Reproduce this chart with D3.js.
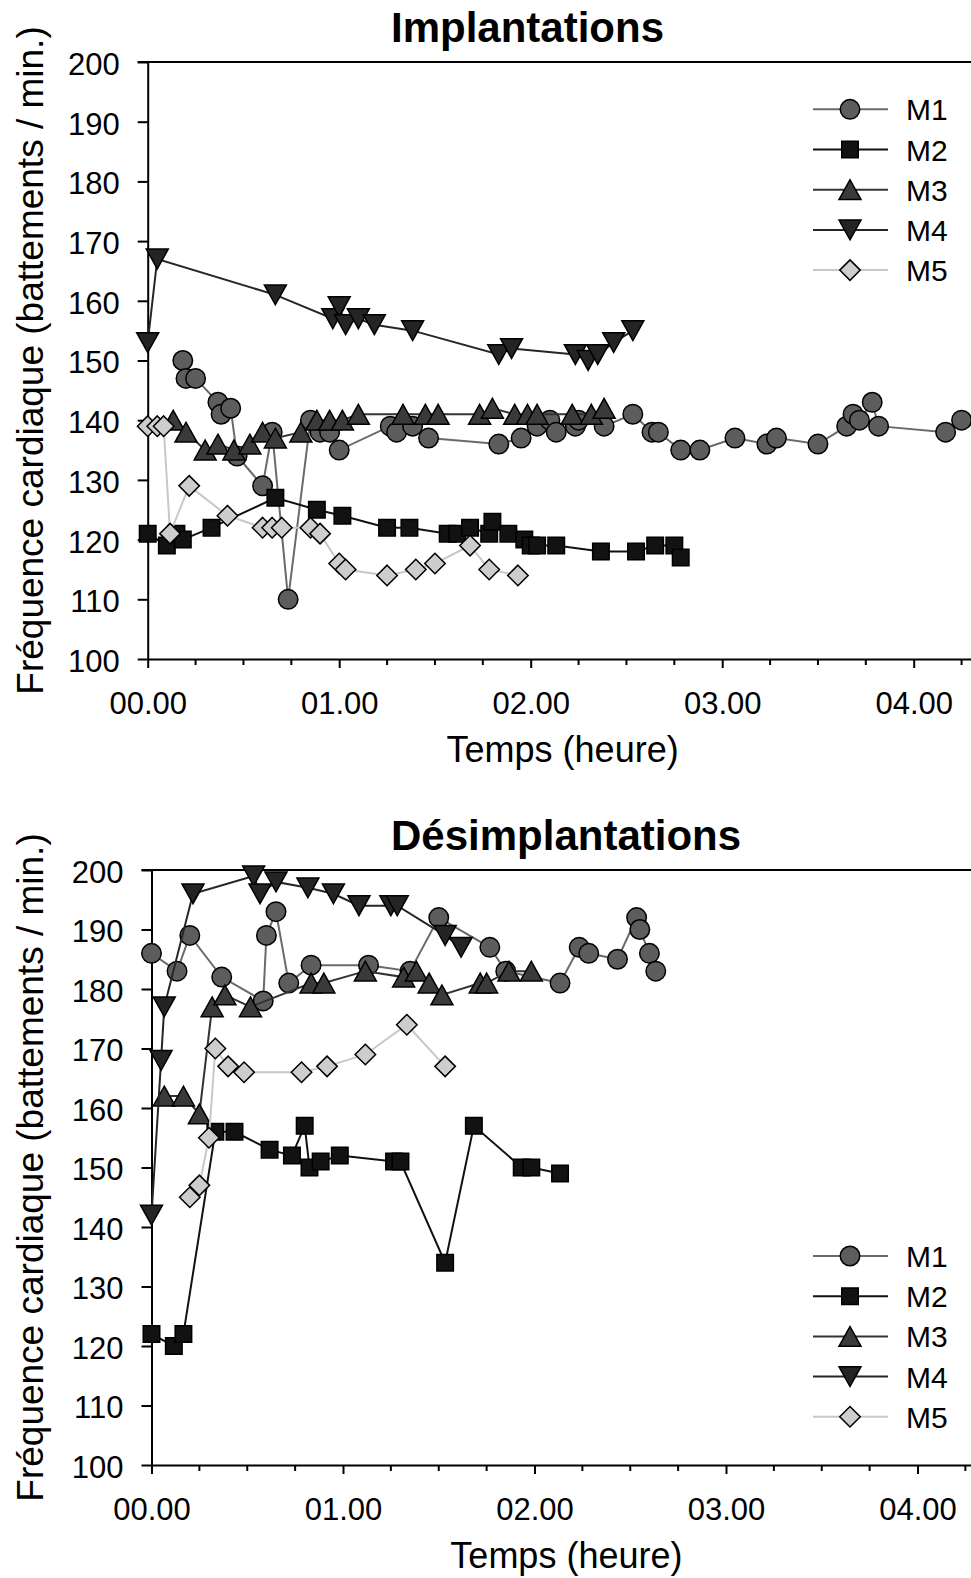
<!DOCTYPE html>
<html>
<head>
<meta charset="utf-8">
<script src="https://cdn.jsdelivr.net/npm/d3@7"></script>
<style>
    body { margin: 0; background: #fff; }
    text { font-family: "Liberation Sans", Arial, sans-serif; fill: #000; }
</style>
</head>
<body>
<div id="graphic"></div>
<script>
const W = 971
const H = 1578

// temps en minutes, frequence en battements / min.
// Implantations
const implM1Time = [11, 12, 15, 22, 23, 26, 28, 36, 39, 44, 51, 54, 57, 60, 76, 78, 83, 88, 110, 117, 122, 126, 128, 134, 135, 143, 152, 158, 160, 167, 173, 184, 194, 197, 210, 219, 221, 223, 227, 229, 250, 255]
const implM1 = [150, 147, 147, 143, 141, 142, 134, 129, 138, 110, 140, 138, 138, 135, 139, 138, 139, 137, 136, 137, 139, 140, 138, 139, 140, 139, 141, 138, 138, 135, 135, 137, 136, 137, 136, 139, 141, 140, 143, 139, 138, 140]
const implM2Time = [0, 6, 9, 11, 20, 40, 53, 61, 75, 82, 94, 97, 101, 107, 108, 113, 118, 120, 122, 128, 142, 153, 159, 165, 167]
const implM2 = [121, 119, 121, 120, 122, 127, 125, 124, 122, 122, 121, 121, 122, 121, 123, 121, 120, 119, 119, 119, 118, 118, 119, 119, 117]
const implM3Time = [8, 12, 18, 22, 27, 32, 36, 40, 48, 53, 57, 61, 66, 80, 87, 91, 104, 108, 115, 119, 122, 133, 139, 143]
const implM3 = [140, 138, 135, 136, 135, 136, 138, 137, 138, 140, 140, 140, 141, 141, 141, 141, 141, 142, 141, 141, 141, 141, 141, 142]
const implM4Time = [0, 3, 40, 58, 60, 62, 66, 71, 83, 110, 114, 134, 138, 141, 146, 152]
const implM4 = [153, 167, 161, 157, 159, 156, 157, 156, 155, 151, 152, 151, 150, 151, 153, 155]
const implM5Time = [0, 3, 5, 7, 13, 25, 36, 39, 42, 51, 54, 60, 62, 75, 84, 90, 101, 107, 116]
const implM5 = [139, 139, 139, 121, 129, 124, 122, 122, 122, 122, 121, 116, 115, 114, 115, 116, 119, 115, 114]

// Desimplantations
const desM1Time = [0, 8, 12, 22, 35, 36, 39, 43, 50, 68, 81, 90, 106, 111, 128, 134, 137, 146, 152, 153, 156, 158]
const desM1 = [186, 183, 189, 182, 178, 189, 193, 181, 184, 184, 183, 192, 187, 183, 181, 187, 186, 185, 192, 190, 186, 183]
const desM2Time = [0, 7, 10, 20, 26, 37, 44, 48, 49.5, 53, 59, 76, 78, 92, 101, 116, 119, 128]
const desM2 = [122, 120, 122, 156, 156, 153, 152, 157, 150, 151, 152, 151, 151, 134, 157, 150, 150, 149]
const desM3Time = [4, 10, 15, 19, 23, 31, 50, 54, 67, 79, 83, 87, 91, 103, 105, 112, 119]
const desM3 = [162, 162, 159, 177, 179, 177, 181, 181, 183, 182, 183, 181, 179, 181, 181, 183, 183]
const desM4Time = [0, 3, 4, 13, 32, 34, 39, 49, 57, 65, 75, 77, 92, 97]
const desM4 = [142, 168, 177, 196, 199, 196, 198, 197, 196, 194, 194, 194, 189, 187]
const desM5Time = [12, 15, 18, 20, 24, 29, 47, 55, 67, 80, 92]
const desM5 = [145, 147, 155, 170, 167, 166, 166, 167, 169, 174, 167]

const seriesNames = ["M1", "M2", "M3", "M4", "M5"]
const xTicks = [0, 60, 120, 180, 240]
const xMinorTicks = d3.range(0, 261, 15)
const yTicks = [100, 110, 120, 130, 140, 150, 160, 170, 180, 190, 200]

// symboles (centres sur leur boite)
const triUp = {
    draw(ctx, s) {
        const w = s / 2, h = s * 0.9 / 2
        ctx.moveTo(0, -h); ctx.lineTo(w, h); ctx.lineTo(-w, h); ctx.closePath()
    }
}
const triDown = {
    draw(ctx, s) {
        const w = s / 2, h = s * 0.9 / 2
        ctx.moveTo(0, h); ctx.lineTo(w, -h); ctx.lineTo(-w, -h); ctx.closePath()
    }
}
const diamond = {
    draw(ctx, s) {
        const r = s / 2
        ctx.moveTo(0, -r); ctx.lineTo(r, 0); ctx.lineTo(0, r); ctx.lineTo(-r, 0); ctx.closePath()
    }
}
const square = {
    draw(ctx, s) { ctx.rect(-s / 2, -s / 2, s, s) }
}
const circle = {
    draw(ctx, s) { ctx.moveTo(s / 2, 0); ctx.arc(0, 0, s / 2, 0, 2 * Math.PI) }
}

const styles = [
    { type: circle, size: 19.5, fill: "#5d5d5d", line: "#6a6a6a" },
    { type: square, size: 16.5, fill: "#121212", line: "#111" },
    { type: triUp, size: 22, fill: "#3a3a3a", line: "#333" },
    { type: triDown, size: 22, fill: "#242424", line: "#262626" },
    { type: diamond, size: 20.5, fill: "#cdcdcd", line: "#c8c8c8" }
]

const svg = d3.select("#graphic").append("svg")
    .attr("width", W)
    .attr("height", H)

function drawPanel(p) {
    const x = d3.scaleLinear()
        .domain([0, 260])
        .range([p.x0, p.x0 + 260 * 191.5 / 60])
    const y = d3.scaleLinear()
        .domain([100, 200])
        .range([p.bottom, p.top])

    const g = svg.append("g")

    // titre
    g.append("text")
        .attr("x", 391)
        .attr("y", p.titleY)
        .style("font-size", "42px")
        .style("font-weight", "bold")
        .text(p.title)

    // cadre du haut
    g.append("line")
        .attr("x1", p.x0 - 10).attr("x2", W + 20)
        .attr("y1", p.top).attr("y2", p.top)
        .attr("stroke", "#000").attr("stroke-width", 2)

    // axe y
    let yAxis = g.append("g")
        .attr("transform", "translate(" + p.x0 + ",0)")
        .call(d3.axisLeft(y).tickValues(yTicks).tickSize(10).tickSizeOuter(0).tickPadding(18))
    yAxis.select(".domain").attr("stroke-width", 2)
    yAxis.selectAll(".tick line").attr("stroke-width", 2)
    yAxis.selectAll("text")
        .style("font-size", "31px")
        .attr("font-family", null)
        .attr("dy", "0.4em")

    // axe x
    let xAxis = g.append("g")
        .attr("transform", "translate(0," + p.bottom + ")")
        .call(d3.axisBottom(x).tickValues(xTicks).tickSize(9).tickSizeOuter(0)
            .tickFormat(function (d) {
                return String(d / 60).padStart(2, "0") + ".00"
            }))
    xAxis.select(".domain").attr("stroke-width", 2)
    xAxis.selectAll(".tick line").attr("stroke-width", 2)
    xAxis.selectAll("text")
        .style("font-size", "31px")
        .attr("font-family", null)
        .attr("y", 54.5)
        .attr("dy", 0)

    g.selectAll(null)
        .data(xMinorTicks.filter(function (d) { return d % 60 != 0 }))
        .enter().append("line")
        .attr("x1", function (d) { return x(d) })
        .attr("x2", function (d) { return x(d) })
        .attr("y1", p.bottom)
        .attr("y2", p.bottom + 6)
        .attr("stroke", "#000")
        .attr("stroke-width", 2)

    // titres des axes
    g.append("text")
        .attr("x", (x.range()[0] + x.range()[1]) / 2)
        .attr("y", p.xTitleY)
        .attr("text-anchor", "middle")
        .style("font-size", "36px")
        .text("Temps (heure)")

    g.append("text")
        .attr("transform", "translate(43," + ((p.top + p.bottom) / 2) + ") rotate(-90)")
        .attr("text-anchor", "middle")
        .style("font-size", "37px")
        .text("Fréquence cardiaque (battements / min.)")

    // series
    const line = d3.line()
        .x(function (d) { return x(d[0]) })
        .y(function (d) { return y(d[1]) })

    p.series.forEach(function (s, i) {
        const pts = d3.zip(s.time, s.values)
        const st = styles[i]
        g.append("path")
            .datum(pts)
            .attr("fill", "none")
            .attr("stroke", st.line)
            .attr("stroke-width", 2)
            .attr("d", line)
        g.selectAll(null)
            .data(pts)
            .enter().append("path")
            .attr("transform", function (d) {
                return "translate(" + x(d[0]) + "," + y(d[1]) + ")"
            })
            .attr("d", d3.symbol().type(st.type).size(st.size))
            .attr("fill", st.fill)
            .attr("stroke", "#000")
            .attr("stroke-width", 1.5)
    })

    // legende
    seriesNames.forEach(function (name, i) {
        const st = styles[i]
        const ly = p.legendY + i * 40.2
        g.append("line")
            .attr("x1", 813).attr("x2", 888)
            .attr("y1", ly).attr("y2", ly)
            .attr("stroke", st.line)
            .attr("stroke-width", 2)
        g.append("path")
            .attr("transform", "translate(850," + ly + ")")
            .attr("d", d3.symbol().type(st.type).size(st.size))
            .attr("fill", st.fill)
            .attr("stroke", "#000")
            .attr("stroke-width", 1.5)
        g.append("text")
            .attr("x", 906)
            .attr("y", ly + 11)
            .style("font-size", "30px")
            .text(name)
    })
}

drawPanel({
    title: "Implantations",
    titleY: 41.7,
    top: 62,
    bottom: 659,
    x0: 147.7,
    xTitleY: 762,
    legendY: 109.3,
    series: [
        { time: implM1Time, values: implM1 },
        { time: implM2Time, values: implM2 },
        { time: implM3Time, values: implM3 },
        { time: implM4Time, values: implM4 },
        { time: implM5Time, values: implM5 }
    ]
})

drawPanel({
    title: "Désimplantations",
    titleY: 850,
    top: 870,
    bottom: 1465,
    x0: 151.5,
    xTitleY: 1568,
    legendY: 1256,
    series: [
        { time: desM1Time, values: desM1 },
        { time: desM2Time, values: desM2 },
        { time: desM3Time, values: desM3 },
        { time: desM4Time, values: desM4 },
        { time: desM5Time, values: desM5 }
    ]
})
</script>
</body>
</html>
